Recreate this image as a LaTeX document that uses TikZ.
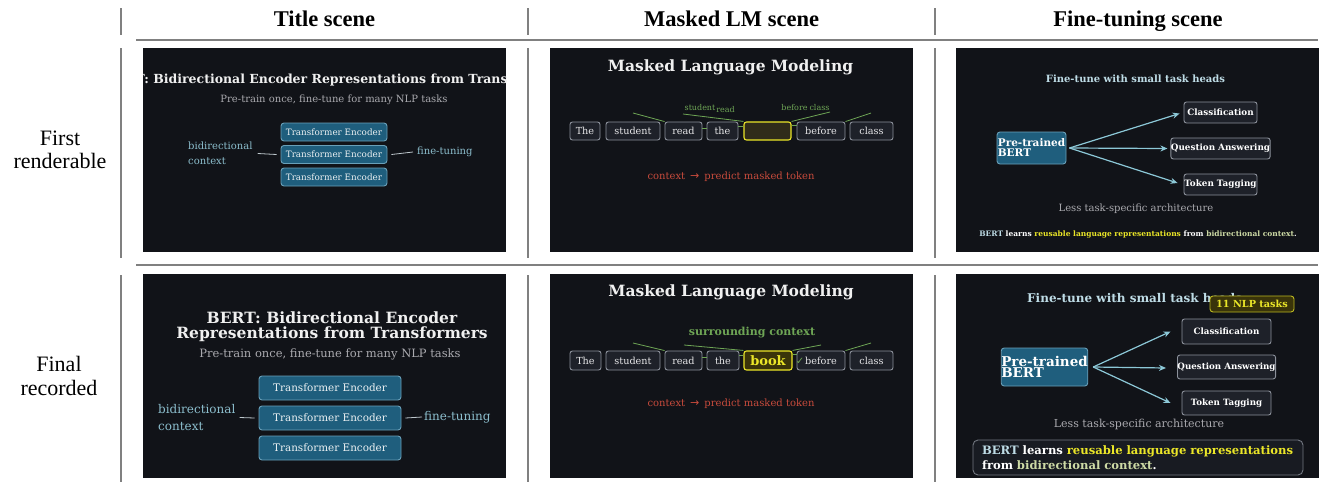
\documentclass[tikz,border=0pt]{standalone}
\usepackage{fontspec}
\setmainfont{Liberation Serif}
\newfontfamily\dvs{DejaVu Serif}
\newfontfamily\dvsa{DejaVu Sans}
\usetikzlibrary{arrows.meta}
\newcommand\fsz[2]{\fontsize{#1}{#2}\selectfont}
\definecolor{panelbg}{RGB}{17,19,24}
\definecolor{gridc}{RGB}{128,128,128}
\definecolor{encf}{RGB}{31,94,125}
\definecolor{encb}{RGB}{105,160,185}
\definecolor{encfg}{RGB}{235,240,242}
\definecolor{tokf}{RGB}{30,33,41}
\definecolor{tokb}{RGB}{140,145,155}
\definecolor{tokfg}{RGB}{230,230,232}
\definecolor{ttlc}{RGB}{240,240,240}
\definecolor{subc}{RGB}{170,170,175}
\definecolor{bluet}{RGB}{140,190,205}
\definecolor{sidec}{RGB}{190,200,205}
\definecolor{glc}{RGB}{110,165,85}
\definecolor{redc}{RGB}{200,75,60}
\definecolor{yel}{RGB}{235,230,40}
\definecolor{maskf}{RGB}{48,44,26}
\definecolor{bookf}{RGB}{58,52,10}
\definecolor{ftc}{RGB}{190,220,230}
\definecolor{arrc}{RGB}{140,200,215}
\definecolor{pgreen}{RGB}{205,218,165}
\definecolor{boxbg}{RGB}{24,27,34}
\newcommand\ctxarrow{context\hspace{5pt}{\dvsa\fsz{11}{12}→}\hspace{5pt}predict masked token}
\begin{document}
\begin{tikzpicture}[x=1pt,y=-1pt,
  hdr/.style={inner sep=0, anchor=base, font=\bfseries\fsz{22.5}{26}, text=black},
  rowl/.style={inner sep=0, align=center, font=\fsz{22}{23.5}, text=black},
  gridline/.style={draw=gridc, line width=1.2pt},
  panel/.style={fill=panelbg},
  txt/.style={inner sep=0},
  enc/.style={draw=encb, fill=encf, rounded corners=3pt, line width=0.9pt, inner sep=0, text=encfg},
  tok/.style={draw=tokb, fill=tokf, rounded corners=2.5pt, line width=0.9pt, inner sep=0, text=tokfg},
  maskbox/.style={draw=yel, fill=maskf, rounded corners=2.5pt, line width=1.1pt, inner sep=0},
  task/.style={draw=tokb, fill=tokf, rounded corners=2.5pt, line width=0.9pt, inner sep=0, text=white},
  bert/.style={draw=encb, fill=encf, rounded corners=3pt, line width=0.9pt, inner sep=0, align=left, text=white},
  gl/.style={draw=glc, line width=0.8pt},
  sidel/.style={draw=sidec, line width=0.8pt},
  arr/.style={draw=arrc, line width=1.2pt, -{Stealth[length=7pt,width=6pt]}}
]
\useasboundingbox (0,0) rectangle (1322,482);
\fill[white] (0,0) rectangle (1322,482);

% ---------- grid ----------
\foreach \gx in {121,528,935}{
  \draw[gridline] (\gx,8) -- (\gx,35);
  \draw[gridline] (\gx,48) -- (\gx,258);
  \draw[gridline] (\gx,275) -- (\gx,482);
}
\draw[gridline] (136,40) -- (1318,40);
\draw[gridline] (136,265) -- (1318,265);

\node[hdr] (h1) at (324.5,26.5) {Title scene};
\node[hdr] (h2) at (731.5,26.5) {Masked LM scene};
\node[hdr] (h3) at (1138,26.5) {Fine-tuning scene};
\node[rowl] (r1) at (60,150) {First\\renderable};
\node[rowl] (r2) at (59,376) {Final\\recorded};

% ---------- panel 1: title, first ----------
\begin{scope}
\clip (143,48) rectangle (506,252);
\fill[panel] (143,48) rectangle (506,252);
\node[txt, text=ttlc, font=\dvs\bfseries\fsz{12.5}{15}] (p1t) at (334,80) {BERT: Bidirectional Encoder Representations from Transformers};
\end{scope}
\node[txt, text=subc, font=\dvs\fsz{10}{12}] (p1s) at (334,100) {Pre-train once, fine-tune for many NLP tasks};
\node[enc, minimum width=106pt, minimum height=18pt, font=\dvs\fsz{8.8}{10}] (p1e1) at (334,132) {Transformer Encoder};
\node[enc, minimum width=106pt, minimum height=18pt, font=\dvs\fsz{8.8}{10}] (p1e2) at (334,154.5) {Transformer Encoder};
\node[enc, minimum width=106pt, minimum height=18pt, font=\dvs\fsz{8.8}{10}] (p1e3) at (334,177) {Transformer Encoder};
\node[txt, anchor=west, align=left, text=bluet, font=\dvs\fsz{10}{15}] (p1b) at (188,153.5) {bidirectional\\context};
\node[txt, anchor=west, text=bluet, font=\dvs\fsz{10}{12}] (p1f) at (417,152) {fine-tuning};
\draw[sidel] ([xshift=5pt]p1b.east) -- ([xshift=-4pt]p1e2.west);
\draw[sidel] ([xshift=4pt]p1e2.east) -- ([xshift=-4pt]p1f.west);

% ---------- panel 4: title, final ----------
\fill[panel] (143,274) rectangle (506,478);
\node[txt, align=center, text=ttlc, font=\dvs\bfseries\fsz{15.5}{15}] (p4t) at (332,326.5) {BERT: Bidirectional Encoder\\Representations from Transformers};
\node[txt, text=subc, font=\dvs\fsz{11.5}{13}] (p4s) at (330,354) {Pre-train once, fine-tune for many NLP tasks};
\node[enc, minimum width=142pt, minimum height=24pt, font=\dvs\fsz{10.4}{12}] (p4e1) at (330,388) {Transformer Encoder};
\node[enc, minimum width=142pt, minimum height=24pt, font=\dvs\fsz{10.4}{12}] (p4e2) at (330,418) {Transformer Encoder};
\node[enc, minimum width=142pt, minimum height=24pt, font=\dvs\fsz{10.4}{12}] (p4e3) at (330,448) {Transformer Encoder};
\node[txt, anchor=west, align=left, text=bluet, font=\dvs\fsz{12}{17}] (p4b) at (158,417.5) {bidirectional\\context};
\node[txt, anchor=west, text=bluet, font=\dvs\fsz{12}{14}] (p4f) at (424,417) {fine-tuning};
\draw[sidel] ([xshift=4pt]p4b.east) -- ([xshift=-4pt]p4e2.west);
\draw[sidel] ([xshift=4pt]p4e2.east) -- ([xshift=-2pt]p4f.west);

% ---------- panel 2: MLM, first ----------
\fill[panel] (550,48) rectangle (913,252);
\node[txt, text=ttlc, font=\dvs\bfseries\fsz{15.5}{18}] (p2t) at (730.5,67) {Masked Language Modeling};
\begin{scope}[every node/.append style={minimum height=18pt, font=\dvs\fsz{9.7}{11}}]
\node[tok, minimum width=30pt] (p2w1) at (585,131) {The};
\node[tok, minimum width=54pt] (p2w2) at (633,131) {student};
\node[tok, minimum width=37pt] (p2w3) at (683.5,131) {read};
\node[tok, minimum width=31pt] (p2w4) at (722.5,131) {the};
\node[maskbox, minimum width=47pt] (p2m) at (767.5,131) {};
\node[tok, minimum width=48pt] (p2w6) at (821,131) {before};
\node[tok, minimum width=43pt] (p2w7) at (871.5,131) {class};
\end{scope}
\node[txt, text=glc, font=\dvs\fsz{8}{9}] (p2l1) at (700,108) {student};
\node[txt, text=glc, font=\dvs\fsz{8}{9}] (p2l2) at (725.5,110) {read};
\node[txt, text=glc, font=\dvs\fsz{8}{9}] (p2l3) at (794.5,108) {before};
\node[txt, text=glc, font=\dvs\fsz{8}{9}] (p2l4) at (819.5,108) {class};
\coordinate (p2a) at (633,113);
\coordinate (p2b) at (683,114);
\coordinate (p2c) at (830,112);
\coordinate (p2d) at (871,113);
\draw[gl] (p2a) -- (p2w3.north west);
\draw[gl] (p2b) -- (p2m.north west);
\draw[gl] (p2c) -- (p2m.north east);
\draw[gl] (p2d) -- (p2w6.north east);
\draw[gl] ([yshift=3pt]p2w3.east) -- ([yshift=3pt]p2w4.west);
\draw[gl] ([yshift=5pt]p2w4.east) -- ([yshift=5pt]p2m.west);
\draw[gl] ([yshift=6pt]p2m.east) -- ([yshift=6pt]p2w6.west);
\node[txt, text=redc, font=\dvs\fsz{10}{12}] (p2r) at (731,177) {\ctxarrow};

% ---------- panel 5: MLM, final ----------
\fill[panel] (550,274) rectangle (913,478);
\node[txt, text=ttlc, font=\dvs\bfseries\fsz{15.5}{18}] (p5t) at (731,292) {Masked Language Modeling};
\node[txt, text=glc, font=\dvs\bfseries\fsz{11}{13}] (p5sc) at (752,333) {surrounding context};
\begin{scope}[every node/.append style={minimum height=19pt, font=\dvs\fsz{9.7}{11}}]
\node[tok, minimum width=31pt] (p5w1) at (585.5,360.5) {The};
\node[tok, minimum width=54pt] (p5w2) at (633,360.5) {student};
\node[tok, minimum width=37pt] (p5w3) at (683.5,360.5) {read};
\node[tok, minimum width=32pt] (p5w4) at (723,360.5) {the};
\node[maskbox, fill=bookf, minimum width=48pt, text=yel, font=\dvs\bfseries\fsz{13}{14}] (p5m) at (768,360.5) {book};
\node[tok, minimum width=48pt] (p5w6) at (821,360.5) {before};
\node[tok, minimum width=43pt] (p5w7) at (871.5,360.5) {class};
\end{scope}
\coordinate (p5a) at (633,343);
\coordinate (p5b) at (684,345);
\coordinate (p5c) at (821,345);
\coordinate (p5d) at (871,343);
\draw[gl] (p5a) -- (p5w3.north west);
\draw[gl] (p5b) -- (p5m.north west);
\draw[gl] (p5c) -- (p5m.north east);
\draw[gl] (p5d) -- (p5w6.north east);
\draw[gl] ([yshift=3pt]p5w3.east) -- ([yshift=3pt]p5w4.west);
\draw[gl] ([yshift=5pt]p5w4.east) -- ([yshift=5pt]p5m.west);
\draw[gl] ([yshift=6pt]p5m.east) -- ([yshift=6pt]p5w6.west);
\node[txt, text=glc, font=\dvsa\fsz{10}{12}] (p5ck) at (800,361) {✓};
\node[txt, text=redc, font=\dvs\fsz{10}{12}] (p5r) at (731,404) {\ctxarrow};

% ---------- panel 3: fine-tune, first ----------
\fill[panel] (956,48) rectangle (1319,252);
\node[txt, text=ftc, font=\dvs\bfseries\fsz{10}{12}] (p3t) at (1135.5,79) {Fine-tune with small task heads};
\node[bert, minimum width=69pt, minimum height=32pt, font=\dvs\bfseries\fsz{10.5}{10}] (p3bert) at (1031.5,148) {Pre-trained\\BERT};
\node[task, minimum width=73pt, minimum height=21pt, font=\dvs\bfseries\fsz{8.8}{10}] (p3c) at (1220.5,112.5) {Classification};
\node[task, minimum width=73pt, minimum height=21pt, font=\dvs\bfseries\fsz{8.8}{10}] (p3q) at (1220.5,148.5) {Question Answering};
\node[task, minimum width=73pt, minimum height=21pt, font=\dvs\bfseries\fsz{8.8}{10}] (p3k) at (1220.5,184.5) {Token Tagging};
\draw[arr] ([xshift=3pt]p3bert.east) -- ([xshift=-4pt,yshift=-1pt]p3c.west);
\draw[arr] ([xshift=3pt]p3bert.east) -- ([xshift=-3pt]p3q.west);
\draw[arr] ([xshift=3pt]p3bert.east) -- ([xshift=-6pt,yshift=1.5pt]p3k.west);
\node[txt, text=subc, font=\dvs\fsz{10}{12}] (p3l) at (1136,209) {Less task-specific architecture};
\node[txt, font=\dvs\bfseries\fsz{7.5}{9}] (p3n) at (1138,234) {\textcolor{ftc}{BERT} \textcolor{white}{learns} \textcolor{yel}{reusable language representations} \textcolor{white}{from} \textcolor{pgreen}{bidirectional context}\textcolor{white}{.}};

% ---------- panel 6: fine-tune, final ----------
\fill[panel] (956,274) rectangle (1319,478);
\node[txt, anchor=west, text=ftc, font=\dvs\bfseries\fsz{12}{14}] (p6t) at (1027,298) {Fine-tune with small task heads};
\node[draw=yel!80!black, fill=bookf, rounded corners=3pt, line width=0.9pt, inner sep=0, minimum width=84pt, minimum height=16pt, text=yel, font=\dvs\bfseries\fsz{9.7}{11}] (p6badge) at (1252,304) {11 NLP tasks};
\node[bert, minimum width=83pt, minimum height=38pt, font=\dvs\bfseries\fsz{13.5}{11.5}] (p6bert) at (1044.5,367) {Pre-trained\\BERT};
\node[task, minimum width=89pt, minimum height=25pt, font=\dvs\bfseries\fsz{8.7}{10}] (p6c) at (1226.5,331.5) {Classification};
\node[task, minimum width=89pt, minimum height=24pt, font=\dvs\bfseries\fsz{8.7}{10}] (p6q) at (1226.5,367) {Question Answering};
\node[task, minimum width=89pt, minimum height=24pt, font=\dvs\bfseries\fsz{8.7}{10}] (p6k) at (1226.5,403) {Token Tagging};
\draw[arr] ([xshift=5pt]p6bert.east) -- ([xshift=-11pt]p6c.west);
\draw[arr] ([xshift=5pt]p6bert.east) -- ([xshift=-11pt,yshift=-1pt]p6q.west);
\draw[arr] ([xshift=5pt]p6bert.east) -- ([xshift=-11pt]p6k.west);
\node[txt, text=subc, font=\dvs\fsz{11}{13}] (p6l) at (1139,424) {Less task-specific architecture};
\node[draw=tokb!80!panelbg, fill=boxbg, rounded corners=5pt, line width=0.9pt, minimum width=330pt, minimum height=35pt, inner xsep=9pt, inner ysep=0, text width=312pt, align=left, font=\dvs\bfseries\fsz{11.6}{15}] (p6n) at (1138,457.5) {\textcolor{ftc}{BERT} \textcolor{white}{learns} \textcolor{yel}{reusable language representations}\\\textcolor{white}{from} \textcolor{pgreen}{bidirectional context}\textcolor{white}{.}};
\end{tikzpicture}
\end{document}
